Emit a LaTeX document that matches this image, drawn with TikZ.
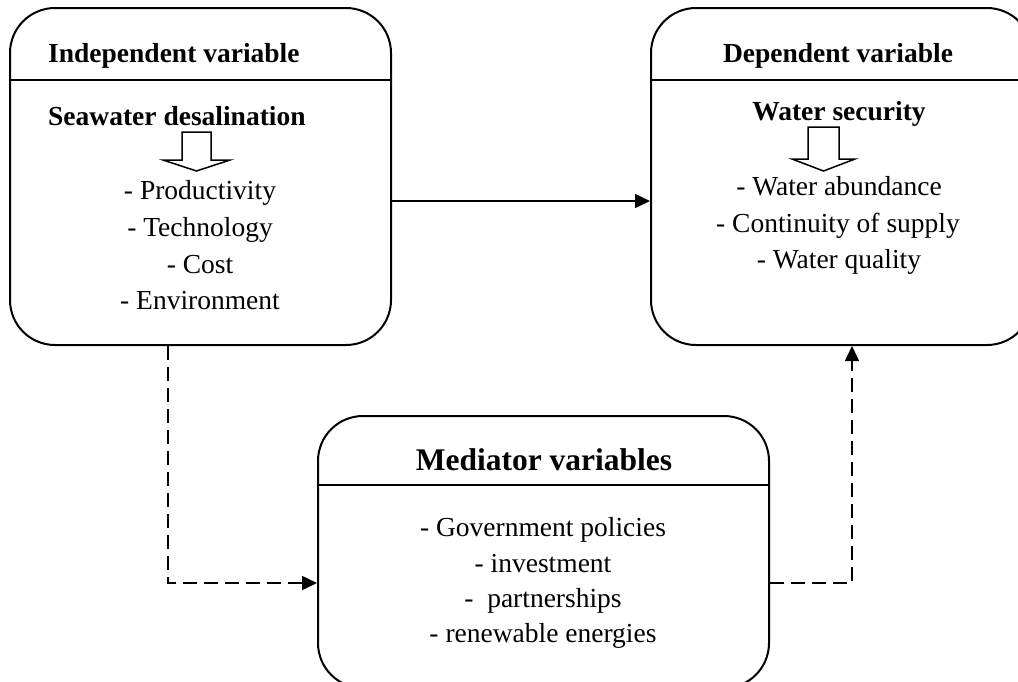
\documentclass[tikz,border=0pt]{standalone}
\usepackage{fontspec}
\setmainfont{Liberation Serif}
\usetikzlibrary{arrows.meta}
\begin{document}
\begin{tikzpicture}[x=1pt,y=-1pt,
  box/.style={draw, line width=2pt, rounded corners=45pt, inner sep=0pt},
  hline/.style={line width=1.6pt},
  conn/.style={line width=1.6pt, -{Triangle[length=15pt,width=14pt]}},
  dashline/.style={dash pattern=on 14pt off 7pt},
  txt/.style={font=\fontsize{27.5}{33}\selectfont, inner sep=0pt, anchor=base},
  btxt/.style={txt, font=\fontsize{27.5}{33}\selectfont\bfseries},
  blockarrow/.style={draw, line width=1.5pt, fill=white, line join=miter}
]
\clip (0,0) rectangle (1018,681);
\fill[white] (0,0) rectangle (1018,681);

% boxes
\node[box, minimum width=381pt, minimum height=337pt] (indep) at (200.5,176.5) {};
\node[box, minimum width=381pt, minimum height=337pt] (dep) at (841.5,176.5) {};
\node[box, minimum width=451pt, minimum height=272pt] (med) at (543.5,552) {};

% header lines
\coordinate (h1) at (0,80);
\coordinate (h2) at (0,485);
\draw[hline] (indep.west |- h1) -- (indep.east |- h1);
\draw[hline] (dep.west |- h1) -- (dep.east |- h1);
\draw[hline] (med.west |- h2) -- (med.east |- h2);

% independent box texts
\node[btxt, anchor=base west] (t1) at (48,62) {Independent variable};
\node[btxt, anchor=base west] (t2) at (48,125) {Seawater desalination};
\draw[blockarrow] (182,132) -- (211,132) -- (211,160) -- (230,160) -- (196.5,171) -- (163,160) -- (182,160) -- cycle;
\node[txt] (i1) at (200,199) {- Productivity};
\node[txt] (i2) at (200,236) {- Technology};
\node[txt] (i3) at (200,273) {- Cost};
\node[txt] (i4) at (200,309) {- Environment};

% dependent box texts
\node[btxt] (d0) at (838,62) {Dependent variable};
\node[btxt] (d1) at (839,120) {Water security};
\draw[blockarrow] (808,127) -- (839,127) -- (839,159) -- (855,159) -- (823.5,171) -- (792,159) -- (808,159) -- cycle;
\node[txt] (d2) at (839,195) {- Water abundance};
\node[txt] (d3) at (838,232) {- Continuity of supply};
\node[txt] (d4) at (839,268) {- Water quality};

% mediator box texts
\node[btxt, font=\fontsize{31.5}{38}\selectfont\bfseries] (m0) at (544,470) {Mediator variables};
\node[txt] (m1) at (543,536) {- Government policies};
\node[txt] (m2) at (543,572) {- investment};
\node[txt] (m3) at (543,607) {-\ \ partnerships};
\node[txt] (m4) at (543,642) {- renewable energies};

% connectors
\coordinate (a) at (0,201);
\draw[conn] (indep.east |- a) -- (dep.west |- a);
\coordinate (c1) at (168,583);
\coordinate (c2) at (852,583);
\draw[conn, dashline] (indep.south -| c1) |- (med.west |- c1);
\draw[conn, dashline] (med.east |- c2) -| (dep.south -| c2);
\end{tikzpicture}
\end{document}
